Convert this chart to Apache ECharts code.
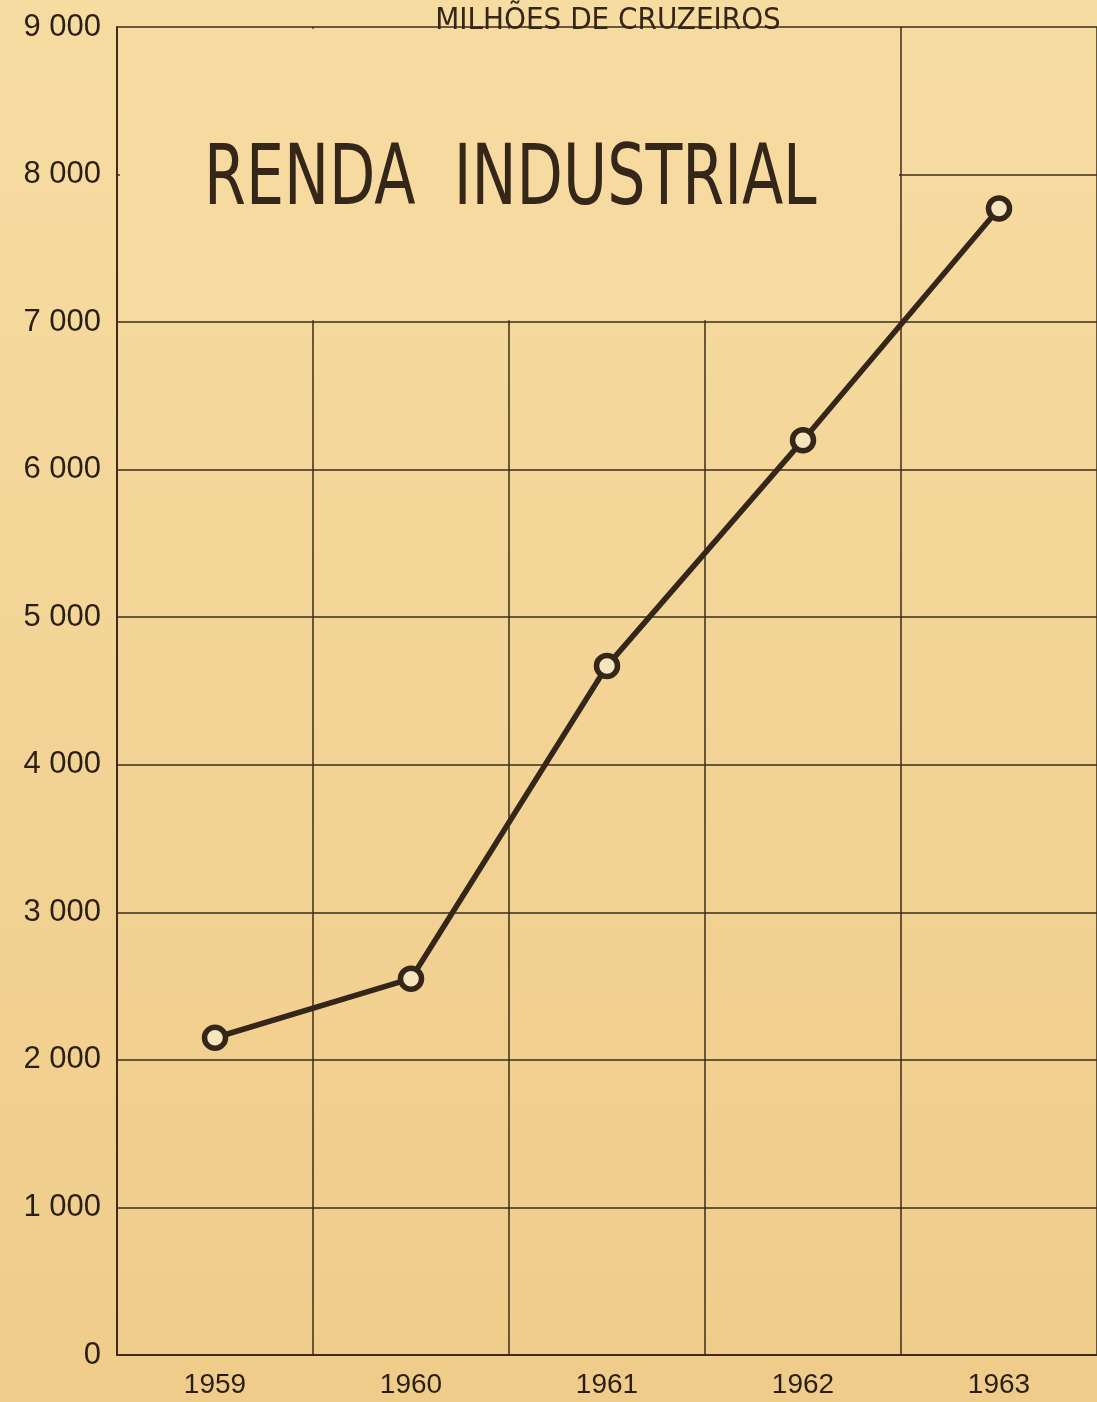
<!DOCTYPE html>
<html>
<head>
<meta charset="utf-8">
<script src="https://cdn.jsdelivr.net/npm/echarts@6/dist/echarts.min.js"></script>
<style>
html,body{margin:0;padding:0;background:#f3d79b;}
#chart{width:1097px;height:1402px;}
</style>
</head>
<body>
<div id="chart"></div>
<script>
// ---- data ----
const categories = ['1959', '1960', '1961', '1962', '1963'];
const rendaIndustrial = [2150, 2550, 4670, 6200, 7770];
const yTickValues = [0, 1000, 2000, 3000, 4000, 5000, 6000, 7000, 8000, 9000];
const titleText = 'RENDA  INDUSTRIAL';
const unitText = 'MILHÕES DE CRUZEIROS';

const ink = '#35261a';
const gridInk = '#3d2c18';
const paperTop = '#f7dca2';
const paperBottom = '#efcc8a';
const boxFill = '#f6daa0';

const chart = echarts.init(document.getElementById('chart'), null, {renderer: 'canvas'});

function fmt(v) {
  return String(v).replace(/\B(?=(\d{3})+$)/g, ' ');
}

const option = {
  backgroundColor: new echarts.graphic.LinearGradient(0, 0, 0, 1, [
    {offset: 0, color: paperTop},
    {offset: 1, color: paperBottom}
  ]),
  animation: false,
  grid: {left: 117, right: 0, top: 27, bottom: 47, containLabel: false},
  xAxis: [
    {
      type: 'category',
      data: categories,
      boundaryGap: true,
      axisLine: {show: true, lineStyle: {color: gridInk, width: 2}},
      axisTick: {show: false},
      splitLine: {show: true, lineStyle: {color: gridInk, width: 1.5}},
      axisLabel: {
        color: '#2a1f14', fontSize: 28, fontFamily: 'Liberation Sans, Arial, sans-serif',
        margin: 16
      }
    },
    {
      type: 'value', min: 0, max: categories.length, show: false
    }
  ],
  yAxis: {
    type: 'value',
    min: yTickValues[0],
    max: yTickValues[yTickValues.length - 1],
    interval: yTickValues[1] - yTickValues[0],
    axisLine: {show: true, lineStyle: {color: gridInk, width: 2}},
    axisTick: {show: false},
    splitLine: {show: true, lineStyle: {color: gridInk, width: 1.5}},
    axisLabel: {
      color: '#2a1f14', fontSize: 31, fontFamily: 'Liberation Sans, Arial, sans-serif',
      margin: 16,
      formatter: fmt
    }
  },
  graphic: [
    {
      type: 'text',
      x: 608,
      y: 5,
      style: {
        text: unitText,
        fill: ink,
        align: 'center',
        font: '31px "DejaVu Sans Condensed", "Liberation Sans Narrow", sans-serif'
      },
      z: 10
    },
    {
      type: 'text',
      x: 204,
      y: 140,
      scaleY: 1.26,
      style: {
        text: titleText,
        fill: ink,
        font: '67px "DejaVu Sans Condensed", "Liberation Sans Narrow", sans-serif'
      },
      z: 10
    }
  ],
  series: [
    {
      type: 'line',
      xAxisIndex: 1,
      data: [],
      silent: true,
      z: 1,
      markArea: {
        silent: true,
        itemStyle: {color: boxFill, opacity: 1},
        data: [[{coord: [0.015, 7012]}, {coord: [3.99, 8988]}]]
      }
    },
    {
      type: 'line',
      data: rendaIndustrial,
      z: 5,
      symbol: 'circle',
      symbolSize: 21,
      lineStyle: {color: ink, width: 5.5},
      itemStyle: {color: '#f7e6bd', borderColor: ink, borderWidth: 5.5}
    }
  ]
};
chart.setOption(option);
</script>
</body>
</html>
